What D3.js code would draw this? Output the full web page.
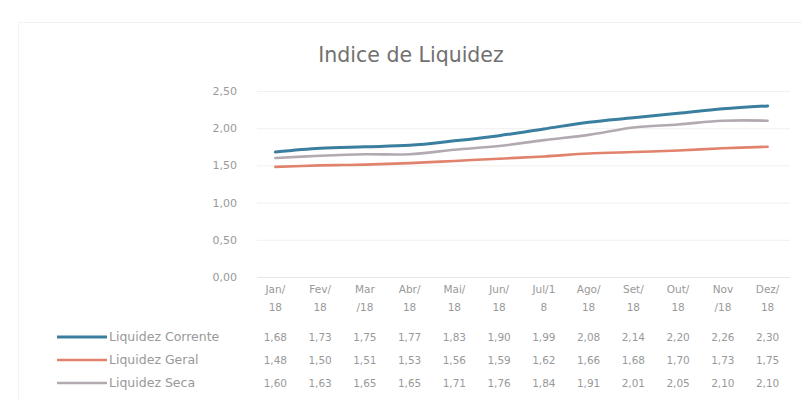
<!DOCTYPE html>
<html>
<head>
<meta charset="utf-8">
<script src="https://cdn.jsdelivr.net/npm/d3@7"></script>
<style>
  html, body { margin: 0; padding: 0; background: #ffffff; }
  svg { display: block; font-family: "DejaVu Sans", sans-serif; }
</style>
</head>
<body>
<svg id="chart" width="802" height="400"></svg>
<script>
// Monthly liquidity ratios, 2018
const months = ["Jan/18", "Fev/18", "Mar/18", "Abr/18", "Mai/18", "Jun/18",
                "Jul/18", "Ago/18", "Set/18", "Out/18", "Nov/18", "Dez/18"];
// Category labels as they wrap in the data table (two lines each)
const monthLines = [["Jan/", "18"], ["Fev/", "18"], ["Mar", "/18"], ["Abr/", "18"],
                    ["Mai/", "18"], ["Jun/", "18"], ["Jul/1", "8"], ["Ago/", "18"],
                    ["Set/", "18"], ["Out/", "18"], ["Nov", "/18"], ["Dez/", "18"]];
const liquidezCorrente = [1.68, 1.73, 1.75, 1.77, 1.83, 1.90, 1.99, 2.08, 2.14, 2.20, 2.26, 2.30];
const liquidezGeral    = [1.48, 1.50, 1.51, 1.53, 1.56, 1.59, 1.62, 1.66, 1.68, 1.70, 1.73, 1.75];
const liquidezSeca     = [1.60, 1.63, 1.65, 1.65, 1.71, 1.76, 1.84, 1.91, 2.01, 2.05, 2.10, 2.10];
const yTicks = [0, 0.5, 1.0, 1.5, 2.0, 2.5];
const seriesNames = ["Liquidez Corrente", "Liquidez Geral", "Liquidez Seca"];

const series = [
  { name: seriesNames[0], values: liquidezCorrente, color: "#3a7f9f", width: 3 },
  { name: seriesNames[1], values: liquidezGeral,    color: "#e0826c", width: 2.6 },
  { name: seriesNames[2], values: liquidezSeca,     color: "#b3a9b1", width: 2.6 }
];

const svg = d3.select("#chart");
const textColor = "#999999";
const fmt = v => d3.format(".2f")(v).replace(".", ",");

// chart frame
svg.append("rect")
  .attr("x", 18.5).attr("y", 22.5).attr("width", 790).attr("height", 390)
  .attr("fill", "none").attr("stroke", "#f2f2f2");

// title
svg.append("text")
  .attr("x", 411).attr("y", 62)
  .attr("text-anchor", "middle")
  .attr("font-size", 20.5)
  .attr("fill", "#707070")
  .text("Indice de Liquidez");

const x = d3.scaleBand().domain(months).range([253, 790]);
const y = d3.scaleLinear().domain([0, 2.5]).range([277, 91]);

// gridlines
svg.append("g")
  .selectAll("line")
  .data(yTicks)
  .join("line")
  .attr("x1", 257).attr("x2", 790)
  .attr("y1", d => y(d) + 0.5).attr("y2", d => y(d) + 0.5)
  .attr("stroke", d => d === 0 ? "#e6e6e6" : "#f0f0f0")
  .attr("stroke-width", 1);

// y axis labels
const yAxis = d3.axisLeft(y).tickValues(yTicks).tickFormat(fmt).tickSize(0).tickPadding(0);
svg.append("g")
  .attr("transform", "translate(237,0)")
  .call(yAxis)
  .call(g => g.select(".domain").remove())
  .call(g => g.selectAll("text")
    .attr("font-size", 11)
    .attr("font-family", "DejaVu Sans, sans-serif")
    .attr("fill", textColor));

// series lines
const line = d3.line()
  .x((d, i) => x(months[i]) + x.bandwidth() / 2)
  .y(d => y(d))
  .curve(d3.curveCatmullRom.alpha(0.5));

svg.append("g")
  .selectAll("path")
  .data(series)
  .join("path")
  .attr("d", d => line(d.values))
  .attr("fill", "none")
  .attr("stroke", d => d.color)
  .attr("stroke-width", d => d.width)
  .attr("stroke-linecap", "round");

// data table: category header
const header = svg.append("g")
  .attr("font-size", 10.5)
  .attr("fill", textColor)
  .attr("text-anchor", "middle");
months.forEach((m, i) => {
  const cx = x(m) + x.bandwidth() / 2;
  header.append("text").attr("x", cx).attr("y", 293).text(monthLines[i][0]);
  header.append("text").attr("x", cx).attr("y", 311).text(monthLines[i][1]);
});

// data table: one row per series with legend key
const rowY = [341, 364, 387];
series.forEach((s, r) => {
  const g = svg.append("g");
  g.append("line")
    .attr("x1", 57).attr("x2", 107)
    .attr("y1", rowY[r] - 4).attr("y2", rowY[r] - 4)
    .attr("stroke", s.color).attr("stroke-width", s.width);
  g.append("text")
    .attr("x", 109).attr("y", rowY[r])
    .attr("font-size", 12.5)
    .attr("fill", textColor)
    .text(s.name);
  g.selectAll("text.val")
    .data(s.values)
    .join("text")
    .attr("class", "val")
    .attr("x", (d, i) => x(months[i]) + x.bandwidth() / 2)
    .attr("y", rowY[r])
    .attr("text-anchor", "middle")
    .attr("font-size", 10.5)
    .attr("fill", textColor)
    .text(fmt);
});
</script>
</body>
</html>
